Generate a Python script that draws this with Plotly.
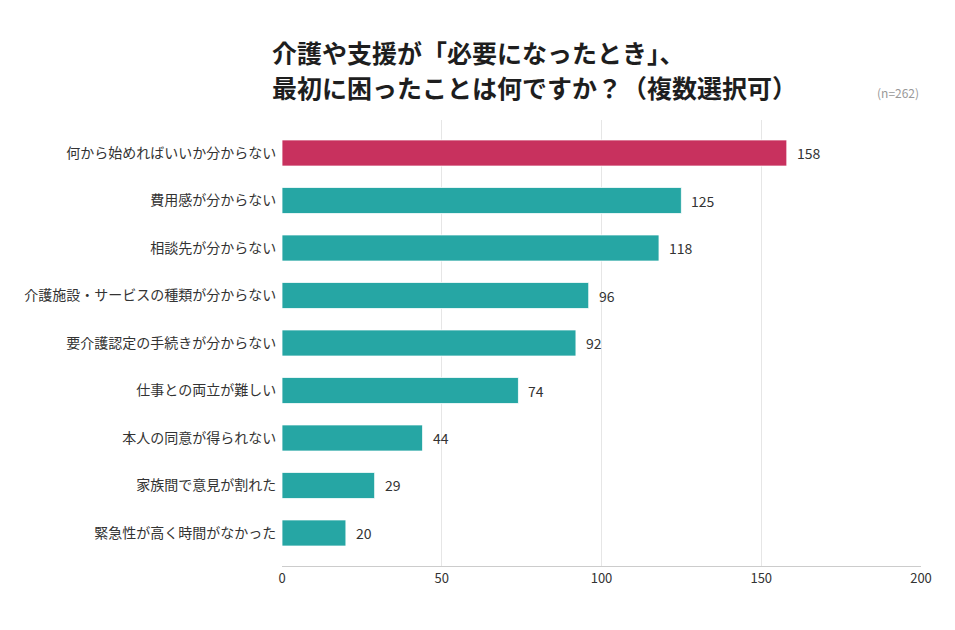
import plotly.graph_objects as go

categories = [
    "何から始めればいいか分からない",
    "費用感が分からない",
    "相談先が分からない",
    "介護施設・サービスの種類が分からない",
    "要介護認定の手続きが分からない",
    "仕事との両立が難しい",
    "本人の同意が得られない",
    "家族間で意見が割れた",
    "緊急性が高く時間がなかった",
]
values = [158, 125, 118, 96, 92, 74, 44, 29, 20]
colors = ["#C8315E"] + ["#26A6A4"] * 8
x_ticks = [0, 50, 100, 150, 200]
title_lines = ["介護や支援が「必要になったとき」、", "最初に困ったことは何ですか？（複数選択可）"]
note = "(n=262)"

FONT = "Noto Sans CJK JP"
W, H = 955, 630
ML, MR, MT, MB = 282, 34, 120, 64
PW, PH = W - ML - MR, H - MT - MB


def px_x(px):
    return (px - ML) / PW


def px_y(py):
    return (H - MB - py) / PH


fig = go.Figure(go.Bar(
    y=categories,
    x=values,
    orientation="h",
    marker=dict(color=colors, line=dict(color="rgba(255,255,255,0.8)", width=1)),
    hoverinfo="skip",
))

annotations = []
for c, v in zip(categories, values):
    annotations.append(dict(
        x=v, y=c, xref="x", yref="y", text=str(v), showarrow=False,
        xanchor="left", yanchor="middle", xshift=8,
        font=dict(family=FONT, size=14, color="#333333"),
    ))
for i, line in enumerate(title_lines):
    annotations.append(dict(
        text="<b>" + line + "</b>", x=px_x(270), xref="paper", xanchor="left",
        y=px_y(52 + 35 * i), yref="paper", yanchor="middle",
        showarrow=False, font=dict(family=FONT, size=25, color="#1E1E1E"),
    ))
annotations.append(dict(
    text=note, x=1.0, xref="paper", y=px_y(93), yref="paper",
    xanchor="right", yanchor="middle", showarrow=False,
    font=dict(family=FONT, size=12, color="#999999"),
))

fig.update_layout(
    width=W, height=H,
    margin=dict(l=ML, r=MR, t=MT, b=MB),
    paper_bgcolor="white", plot_bgcolor="white",
    bargap=0.45,
    showlegend=False,
    font=dict(family=FONT, color="#333333"),
    annotations=annotations,
)

fig.update_xaxes(
    range=[0, 200], tickvals=x_ticks, ticktext=[str(t) for t in x_ticks],
    showgrid=True, gridcolor="#E6E6E6", gridwidth=1,
    zeroline=False, showline=True, linecolor="#CCCCCC", linewidth=1,
    tickfont=dict(family=FONT, size=13, color="#333333"),
    ticks="", ticklen=0,
)
fig.update_yaxes(
    categoryorder="array", categoryarray=categories,
    range=[8.695, -0.695],
    showgrid=False, zeroline=False, showline=False,
    tickfont=dict(family=FONT, size=14, color="#333333"),
    ticks="outside", ticklen=2, tickcolor="rgba(0,0,0,0)",
)

fig.write_html("out.html")
